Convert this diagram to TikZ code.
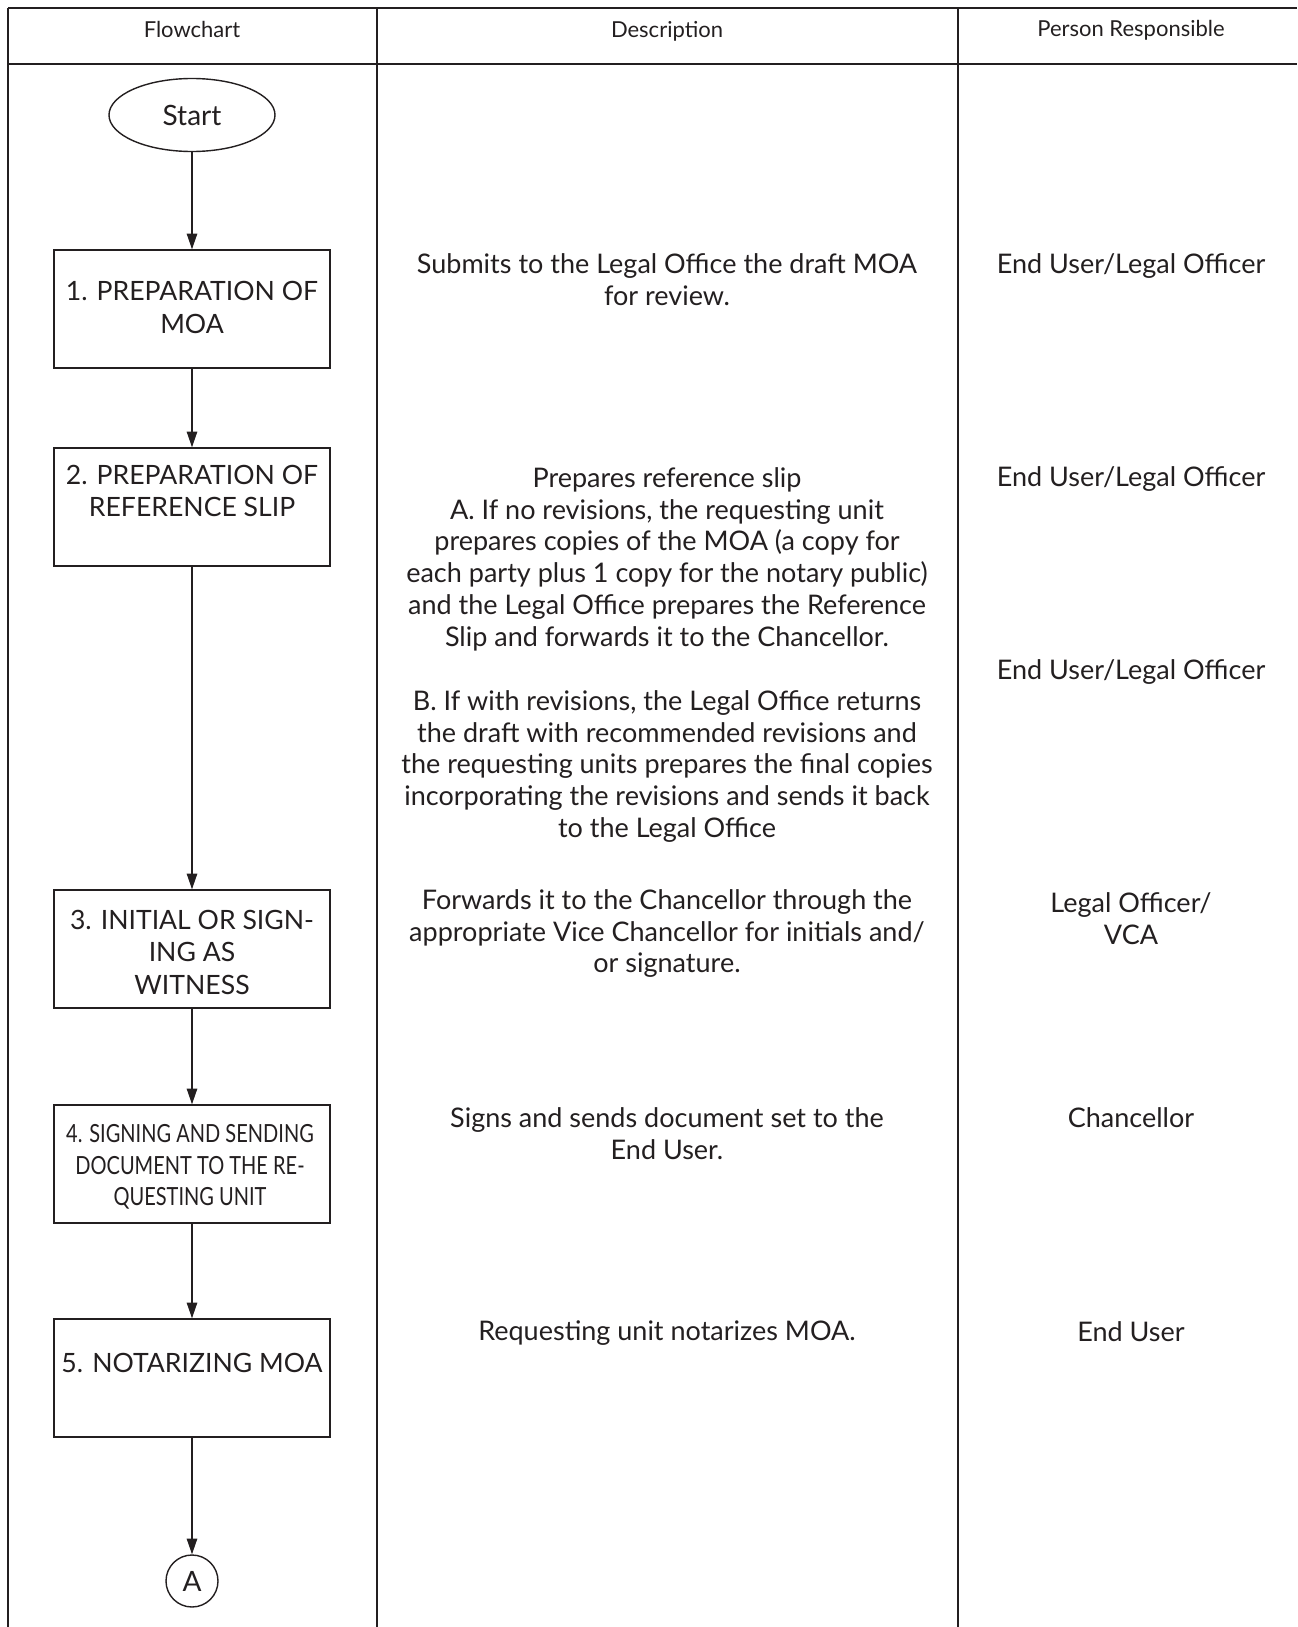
\documentclass[tikz,border=0pt]{standalone}
\usepackage{fontspec}
\setmainfont{Lato}
\newfontfamily\condfont[FakeStretch=0.80]{Lato}
\usetikzlibrary{shapes.geometric,arrows.meta}
\definecolor{ink}{HTML}{231F20}
\begin{document}
\begin{tikzpicture}[x=0.5pt,y=-0.5pt,
  tbl/.style={draw=ink,line width=0.8pt},
  stepbox/.style={draw=ink,line width=0.7pt,rectangle,minimum width=138pt,minimum height=59pt,inner sep=0pt},
  startnode/.style={draw=ink,line width=0.7pt,ellipse,minimum width=83pt,minimum height=36.5pt,inner sep=0pt,text=ink,font=\fontsize{14}{16}\selectfont},
  connector/.style={draw=ink,line width=0.7pt,circle,minimum size=26pt,inner sep=0pt,text=ink,font=\fontsize{14}{16}\selectfont},
  boxtext/.style={anchor=north,inner sep=0pt,align=center,text=ink,font=\fontsize{13.3}{16.25}\selectfont},
  condtext/.style={anchor=north,inner sep=0pt,align=center,text=ink,font=\condfont\fontsize{12.5}{15.75}\selectfont},
  desctext/.style={anchor=north,inner sep=0pt,align=center,text=ink,font=\fontsize{13.5}{15.9}\selectfont},
  headtext/.style={anchor=north,inner sep=0pt,align=center,text=ink,font=\fontsize{11}{13}\selectfont},
  flow/.style={draw=ink,line width=0.65pt,-{Triangle[width=5.2pt,length=7.8pt]}}
]
\useasboundingbox (0,0) rectangle (1297,1627);
% table
\draw[tbl] (8,8) -- (1297,8);
\draw[tbl] (8,64) -- (1297,64);
\draw[tbl] (8,8) -- (8,1627);
\draw[tbl] (377,8) -- (377,1627);
\draw[tbl] (958,8) -- (958,1627);
% headers
\node[headtext] (h1) at (192,21) {Flowchart};
\node[headtext] (h2) at (667,21) {Description};
\node[headtext] (h3) at (1131,20) {Person Responsible};
% flowchart
\node[startnode] (start) at (192,115) {Start};
\node[stepbox] (b1) at (192,309) {};
\node[stepbox] (b2) at (192,507) {};
\node[stepbox] (b3) at (192,949) {};
\node[stepbox] (b4) at (192,1164) {};
\node[stepbox] (b5) at (192,1378) {};
\node[connector] (A) at (192,1581) {A};
\node[boxtext] (t1) at (192,281) {1. PREPARATION OF\\MOA};
\node[boxtext] (t2) at (192,464.5) {2. PREPARATION OF\\REFERENCE SLIP};
\node[boxtext] (t3) at (192,909.5) {3. INITIAL OR SIGN-\\ING AS\\WITNESS};
\node[condtext] (t4) at (190,1124) {4. SIGNING AND SENDING\\DOCUMENT TO THE RE-\\QUESTING UNIT};
\node[boxtext] (t5) at (192,1352.5) {5. NOTARIZING MOA};
\draw[flow] (start) -- (b1);
\draw[flow] (b1) -- (b2);
\draw[flow] (b2) -- (b3);
\draw[flow] (b3) -- (b4);
\draw[flow] (b4) -- (b5);
\draw[flow] (b5) -- (A);
% descriptions
\node[desctext] (d1) at (667,253) {Submits to the Legal Office the draft MOA\\for review.};
\node[desctext] (d2a) at (667,467) {Prepares reference slip\\A. If no revisions, the requesting unit\\prepares copies of the MOA (a copy for\\each party plus 1 copy for the notary public)\\and the Legal Office prepares the Reference\\Slip and forwards it to the Chancellor.};
\node[desctext] (d2b) at (667,690) {B. If with revisions, the Legal Office returns\\the draft with recommended revisions and\\the requesting units prepares the final copies\\incorporating the revisions and sends it back\\to the Legal Office};
\node[desctext] (d3) at (667,889) {Forwards it to the Chancellor through the\\appropriate Vice Chancellor for initials and/\\or signature.};
\node[desctext] (d4) at (667,1107) {Signs and sends document set to the\\End User.};
\node[desctext] (d5) at (667,1320) {Requesting unit notarizes MOA.};
% persons
\node[desctext] (p1) at (1131,253) {End User/Legal Officer};
\node[desctext] (p2a) at (1131,466) {End User/Legal Officer};
\node[desctext] (p2b) at (1131,659) {End User/Legal Officer};
\node[desctext] (p3) at (1131,892) {Legal Officer/\\VCA};
\node[desctext] (p4) at (1131,1107) {Chancellor};
\node[desctext] (p5) at (1131,1321) {End User};
\end{tikzpicture}
\end{document}
